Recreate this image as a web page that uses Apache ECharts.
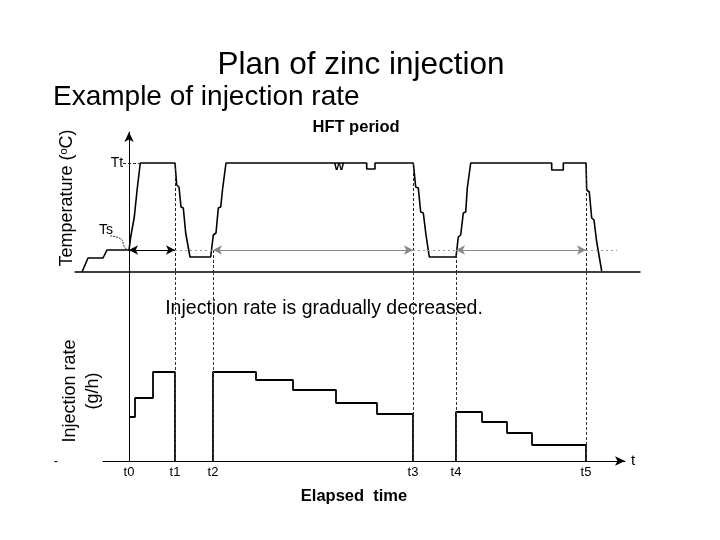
<!DOCTYPE html>
<html><head><meta charset="utf-8">
<script src="https://cdn.jsdelivr.net/npm/echarts@6/dist/echarts.min.js"></script>
<style>html,body{margin:0;padding:0;background:#fff}#c{width:720px;height:540px}</style>
</head><body><div id="c"></div>
<script>
// time positions (arbitrary time units, t0 = 0)
const tickLabels = ['t0', 't1', 't2', 't3', 't4', 't5'];
const tickPos = [0, 46, 84, 284, 327, 457];
// temperature levels (arbitrary units above axis)
const TsLevel = 22;
const TtLevel = 109;
const dottedEnd = 488;
// temperature profile [time, temperature]
const tempCurve = [
  [-47, 0], [-41, 14], [-26, 14], [-22, 22], [0, 22],
  [1.7, 35], [3.7, 37], [5.3, 55], [7, 57], [8.3, 84], [10.3, 85], [11.3, 109],
  [46, 109], [47.7, 87], [50, 85], [52, 65], [54.3, 64], [56.7, 39], [58.3, 37], [61, 15],
  [81.7, 15], [84.3, 37], [87, 39], [89.3, 64], [91.7, 65], [93.7, 84], [95.3, 85], [97, 109],
  [237.7, 109], [237.7, 103], [246, 103], [246, 109],
  [284.3, 109], [286.7, 85], [289.3, 84], [291.7, 60], [294.3, 59], [297, 37], [298.3, 35], [300.3, 15],
  [327, 15], [329.3, 35], [331.7, 37], [334.3, 59], [336.7, 60], [338.3, 84], [340.3, 85], [341.7, 109],
  [422.7, 109], [422.7, 102], [434.3, 102], [434.3, 109],
  [457, 109], [457.7, 82], [460.3, 80], [462.7, 54], [465, 52], [467.7, 30], [472.7, 1]
];
// Ts leader curve
const tsLeader = [[-19, 36], [-8, 33], [-5, 26], [-2, 22]];
// injection rate (arbitrary units) [time, rate]
const rateSeg1 = [[0, 44], [6, 44], [6, 63], [24, 63], [24, 89], [46, 89], [46, 0]];
const rateSeg2 = [[84, 0], [84, 89], [127, 89], [127, 81], [164, 81], [164, 71], [207, 71], [207, 58], [248, 58], [248, 47], [284, 47], [284, 0]];
const rateSeg3 = [[327, 0], [327, 49], [353, 49], [353, 39], [378, 39], [378, 28], [403, 28], [403, 16], [457, 16], [457, 0]];

const FONT = 'Liberation Sans, Arial, sans-serif';
const chart = echarts.init(document.getElementById('c'), null, {renderer: 'canvas'});

function seg(a, b) { return [{coord: a}, {coord: b}]; }

const upperVert = tickPos.slice(1).map((t, i) => seg([t, (i % 2 === 0) ? TtLevel : TsLevel], [t, 0]));
const lowerVert = tickPos.slice(1).map(t => seg([t, 189], [t, 0]));

const lineBase = {type: 'line', showSymbol: false, symbol: 'none', silent: true, animation: false};

function txt(x, y, text, size, extra) {
  return Object.assign({type: 'text', x: x, y: y, silent: true, style: Object.assign({
    text: text, fontSize: size, fontFamily: FONT, fill: '#000',
    align: 'center', verticalAlign: 'middle', textAlign: 'center', textVerticalAlign: 'middle'}, (extra && extra.style) || {})},
    (extra && extra.el) || {});
}

const option = {
  animation: false,
  backgroundColor: '#fff',
  grid: [
    {left: 75, right: 80, top: 132, bottom: 268},
    {left: 103, right: 95, top: 272, bottom: 79}
  ],
  xAxis: [
    {type: 'value', gridIndex: 0, min: -54, max: 511,
     axisLine: {onZero: false, lineStyle: {color: '#000', width: 1.5}},
     axisTick: {show: false}, axisLabel: {show: false}, splitLine: {show: false}},
    {type: 'value', gridIndex: 1, min: -26, max: 496,
     name: 't', nameLocation: 'end', nameGap: 6,
     nameTextStyle: {color: '#000', fontSize: 15, fontFamily: FONT},
     axisLine: {onZero: false, symbol: ['none', 'arrow'], symbolSize: [7, 10], lineStyle: {color: '#000', width: 1.2}},
     axisTick: {show: false}, splitLine: {show: false},
     axisLabel: {show: true, customValues: tickPos, margin: 5, color: '#000', fontSize: 13, fontFamily: FONT,
       formatter: v => tickLabels[tickPos.indexOf(v)] || ''}}
  ],
  yAxis: [
    {type: 'value', gridIndex: 0, min: 0, max: 140,
     axisLine: {show: true, onZero: true, symbol: ['none', 'arrow'], symbolSize: [7, 10], lineStyle: {color: '#000', width: 1}},
     axisTick: {show: false}, axisLabel: {show: false}, splitLine: {show: false}},
    {type: 'value', gridIndex: 1, min: 0, max: 189,
     axisLine: {show: true, onZero: true, lineStyle: {color: '#000', width: 1}},
     axisTick: {show: false}, axisLabel: {show: false}, splitLine: {show: false}}
  ],
  series: [
    Object.assign({}, lineBase, {name: 'temp', xAxisIndex: 0, yAxisIndex: 0, data: tempCurve,
      lineStyle: {color: '#000', width: 1.6}}),
    Object.assign({}, lineBase, {name: 'tsLeader', xAxisIndex: 0, yAxisIndex: 0, data: tsLeader, smooth: true,
      lineStyle: {color: '#000', width: 0.8, type: [2, 1]}}),
    Object.assign({}, lineBase, {xAxisIndex: 0, yAxisIndex: 0, data: [],
      markLine: {silent: true, symbol: 'none', label: {show: false}, animation: false,
        lineStyle: {color: '#222', width: 1, type: [3, 2]}, data: upperVert.concat([seg([-6, TtLevel], [11, TtLevel])])}}),
    Object.assign({}, lineBase, {xAxisIndex: 0, yAxisIndex: 0, data: [],
      markLine: {silent: true, symbol: 'none', label: {show: false}, animation: false,
        lineStyle: {color: '#999', width: 1, type: [2, 3]},
        data: [seg([tickPos[1], TsLevel], [tickPos[2], TsLevel]), seg([tickPos[3], TsLevel], [tickPos[4], TsLevel]), seg([tickPos[5], TsLevel], [dottedEnd, TsLevel])]}}),
    Object.assign({}, lineBase, {xAxisIndex: 0, yAxisIndex: 0, data: [],
      markLine: {silent: true, symbol: ['arrow', 'arrow'], symbolSize: [7, 9], label: {show: false}, animation: false,
        lineStyle: {color: '#000', width: 1, type: 'solid'},
        data: [seg([tickPos[0], TsLevel], [tickPos[1], TsLevel])]}}),
    Object.assign({}, lineBase, {xAxisIndex: 0, yAxisIndex: 0, data: [],
      markLine: {silent: true, symbol: ['arrow', 'arrow'], symbolSize: [7, 9], label: {show: false}, animation: false,
        lineStyle: {color: '#888', width: 1, type: 'solid'},
        data: [seg([tickPos[2], TsLevel], [tickPos[3], TsLevel]), seg([tickPos[4], TsLevel], [tickPos[5], TsLevel])]}}),
    Object.assign({}, lineBase, {xAxisIndex: 1, yAxisIndex: 1, data: [],
      markLine: {silent: true, symbol: 'none', label: {show: false}, animation: false,
        lineStyle: {color: '#333', width: 1, type: [3, 2]}, data: lowerVert}}),
    Object.assign({}, lineBase, {xAxisIndex: 1, yAxisIndex: 1, data: rateSeg1, lineStyle: {color: '#000', width: 1.8}}),
    Object.assign({}, lineBase, {xAxisIndex: 1, yAxisIndex: 1, data: rateSeg2, lineStyle: {color: '#000', width: 1.8}}),
    Object.assign({}, lineBase, {xAxisIndex: 1, yAxisIndex: 1, data: rateSeg3, lineStyle: {color: '#000', width: 1.8}})
  ],
  graphic: [
    txt(361, 65, 'Plan of zinc injection', 31.5),
    txt(53, 97, 'Example of injection rate', 28, {style: {align: 'left', textAlign: 'left'}}),
    txt(356, 127, 'HFT period', 16.5, {style: {fontWeight: 'bold'}}),
    txt(117, 163, 'Tt', 14),
    txt(106, 230, 'Ts', 14),
    txt(339, 166, 'w', 13, {style: {fontWeight: 'bold'}}),
    txt(324, 309, 'Injection rate is gradually decreased.', 19.5),
    txt(354, 496, 'Elapsed  time', 16.5, {style: {fontWeight: 'bold'}}),
    txt(56, 461, '-', 13),
    {type: 'text', x: 67, y: 198, rotation: Math.PI / 2, silent: true, style: {
      text: '{a|Temperature (}{s|o}{a|C)}', align: 'center', verticalAlign: 'middle', textAlign: 'center', textVerticalAlign: 'middle',
      rich: {a: {fontSize: 18, fontFamily: FONT, fill: '#000', color: '#000'}, s: {fontSize: 11, fontFamily: FONT, fill: '#000', color: '#000', verticalAlign: 'top'}}}},
    txt(70, 391, 'Injection rate', 18, {el: {rotation: Math.PI / 2}}),
    txt(93, 391, '(g/h)', 18, {el: {rotation: Math.PI / 2}})
  ]
};
chart.setOption(option);
</script>
</body></html>
